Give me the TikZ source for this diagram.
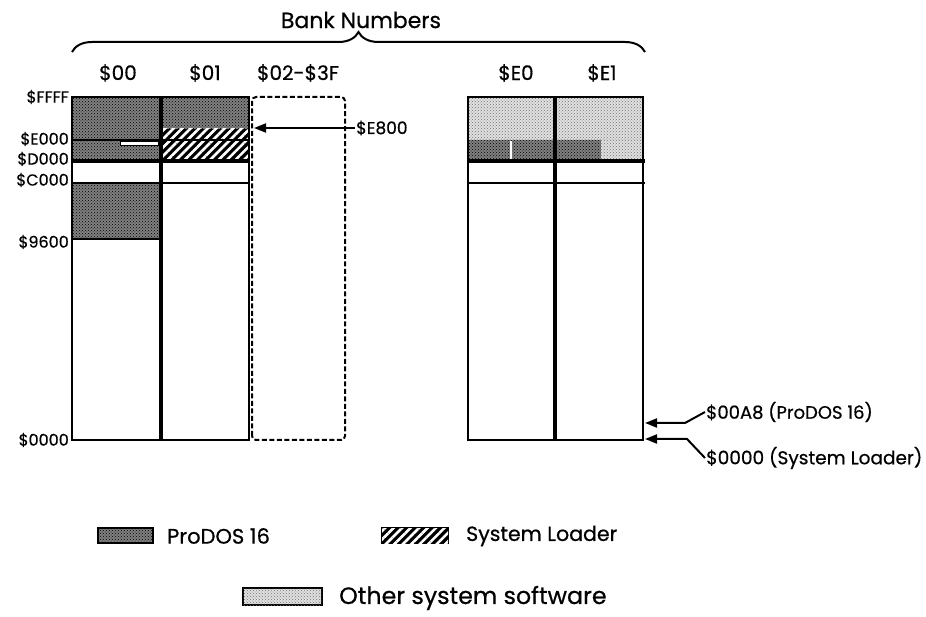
\documentclass[tikz,border=0pt]{standalone}
\usepackage{fontspec}
\setmainfont{Poppins}[FakeBold=0.6]
\usetikzlibrary{arrows.meta,decorations.pathreplacing,patterns,patterns.meta}

\begin{document}
\begin{tikzpicture}[x=1pt, y=1pt,
    every node/.style={font=\fontsize{16}{18}\selectfont, inner sep=1pt},
    colfont/.style={font=\fontsize{20}{24}\selectfont},
    bigfont/.style={font=\fontsize{21}{25}\selectfont},
    prodos/.style={fill=black!50, postaction={pattern=crosshatch dots, pattern color=black}},
    other/.style={fill=black!12, postaction={pattern=crosshatch dots, pattern color=black!55}},
    loader/.style={fill=black, postaction={pattern={Lines[angle=45, distance=6pt, line width=2.6pt]}, pattern color=white}},
    wall/.style={line width=2pt},
    pointer/.style={line width=2pt, -{Triangle[length=12pt, width=9pt]}}]
    \useasboundingbox (0,0) rectangle (926,616);

    % Bank $00
    \fill[prodos] (72,455) rectangle (161,519);
    \filldraw[fill=white, line width=1pt] (120,470) rectangle (158,474);
    \fill[prodos] (72,377) rectangle (161,433);

    % Bank $01
    \fill[prodos] (161,487) rectangle (249,519);
    \fill[loader] (161,455) rectangle (249,487);

    % Banks $E0, $E1
    \fill[other] (468,476) rectangle (643,519);
    \fill[prodos] (468,455) rectangle (601,476);
    \fill[other] (601,455) rectangle (643,476);
    \draw[white, line width=1.2pt] (511,456) -- (511,475);

    % Lines of the banks
    \draw[wall] (72,176) rectangle (249,519);
    \draw[wall] (468,176) rectangle (643,519);
    \foreach \x in {161,555}
        \draw[line width=3.5pt] (\x,176) -- (\x,519);
    \foreach \x in {72,468}
        \draw[line width=4pt] (\x,455) -- (\x+177,455);
    \foreach \x in {72,468}
        \draw[wall] (\x,433) -- (\x+177,433);
    \draw[wall] (72,476) -- (249,476);
    \draw[wall] (72,377) -- (161,377);

    % Banks $02-$3F
    \draw[line width=2pt, dash pattern=on 5pt off 2.5pt, rounded corners=4pt]
        (252,176) rectangle (345,519);

    % Bank numbers
    \draw[line width=2pt, decorate, decoration={brace, amplitude=20pt}]
        (72,564) -- (645,564);
    \node[font=\fontsize{22}{26}\selectfont] (banks) at (361,596) {Bank Numbers};
    \node[colfont] (b00) at (118,543) {\$00};
    \node[colfont] (b01) at (205,543) {\$01};
    \node[colfont] (b02) at (298,543) {\$02-\$3F};
    \node[colfont] (be0) at (516,543) {\$E0};
    \node[colfont] (be1) at (602,543) {\$E1};

    % Addresses
    \node[anchor=east] (affff) at (70,519) {\$FFFF};
    \node[anchor=east] (ae000) at (70,477) {\$E000};
    \node[anchor=east] (ad000) at (70,457) {\$D000};
    \node[anchor=east] (ac000) at (70,436) {\$C000};
    \node[anchor=east] (a9600) at (70,374) {\$9600};
    \node[anchor=east] (a0000) at (70,176) {\$0000};

    % Arrows
    \node[anchor=west, font=\fontsize{17}{20}\selectfont] (le800) at (355,488) {\$E800};
    \coordinate (te800) at (254,488);
    \draw[pointer] (le800.west) -- (te800);

    \node[anchor=west, font=\fontsize{18}{21}\selectfont] (la8) at (705,204) {\$00A8 (ProDOS 16)};
    \coordinate (ta8) at (645,193);
    \draw[pointer] (la8.west) -- ++(-20,-11) -- (ta8);

    \node[anchor=west, font=\fontsize{18.5}{21}\selectfont] (lzero) at (705,158) {\$0000 (System Loader)};
    \coordinate (tzero) at (645,177);
    \draw[pointer] (lzero.west) -- ++(-18,19) -- (tzero);

    % Legend
    \node[draw, line width=1.5pt, prodos, minimum width=55pt, minimum height=15pt] (kprodos) at (125.5,80.5) {};
    \node[bigfont, anchor=west] (tprodos) at (166,80) {ProDOS 16};
    \node[draw, line width=1.5pt, loader, minimum width=66pt, minimum height=15pt] (kloader) at (415,80.5) {};
    \node[anchor=west, font=\fontsize{20.5}{24}\selectfont] (tloader) at (465,80) {System Loader};
    \node[draw, line width=1.5pt, other, minimum width=79pt, minimum height=17pt] (kother) at (282.5,19.5) {};
    \node[anchor=west, font=\fontsize{23.7}{28}\selectfont] (tother) at (338,18) {Other system software};
\end{tikzpicture}
\end{document}
